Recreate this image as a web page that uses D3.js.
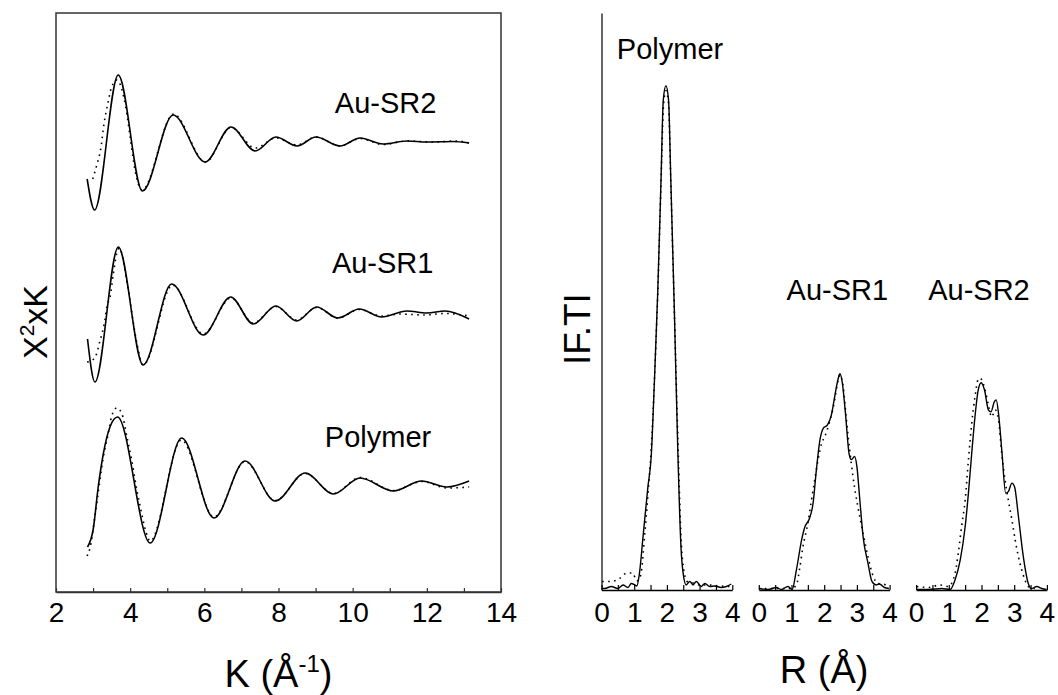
<!DOCTYPE html>
<html>
<head>
<meta charset="utf-8">
<script src="https://cdn.jsdelivr.net/npm/d3@7"></script>
<style>
  body { margin: 0; background: #fff; }
  text { font-family: "Liberation Sans", Arial, sans-serif; fill: #000; }
</style>
</head>
<body>
<div id="chart"></div>
<script>
// ---- k-space (left panel): measured (solid) and fit (dotted) ----
const samples = ['Polymer', 'Au-SR1', 'Au-SR2'];
const kOffsets = [2.16, 5.58, 9.0];

const kPoly = [2.85, 3.0, 3.14, 3.28, 3.46, 3.66, 4.54, 5.39, 6.26, 7.10, 7.91, 8.72, 9.48, 10.20, 11.10, 11.86, 12.54, 13.14];
const chiPoly = [-1.26, -0.92, -0.05, 0.62, 1.15, 1.34, -1.18, 0.92, -0.68, 0.46, -0.34, 0.22, -0.20, 0.12, -0.14, 0.06, -0.06, 0.06];
const kPolyFit = [2.84, 2.92, 3.05, 3.28, 3.41, 3.50, 3.64, 3.77, 3.91, 4.04, 4.18, 4.31, 4.40, 4.54, 5.38, 6.26, 7.10, 7.91, 8.72, 9.48, 10.2, 11.1, 11.86, 12.54, 13.14];
const chiPolyFit = [-1.44, -1.27, -0.65, 0.55, 1.01, 1.35, 1.52, 1.42, 0.95, 0.48, -0.12, -0.59, -0.89, -1.14, 0.88, -0.66, 0.45, -0.33, 0.21, -0.19, 0.13, -0.13, 0.05, -0.08, -0.06];

const kSR1 = [2.85, 3.05, 3.68, 4.35, 5.12, 5.97, 6.71, 7.32, 7.93, 8.49, 9.03, 9.60, 10.18, 10.78, 11.46, 12.00, 12.49, 13.14];
const chiSR1 = [-0.52, -1.38, 1.32, -1.04, 0.58, -0.44, 0.32, -0.22, 0.14, -0.16, 0.12, -0.10, 0.08, -0.08, 0.04, 0.00, 0.04, -0.12];
const kSR1Fit = [2.84, 3.02, 3.11, 3.17, 3.23, 3.32, 3.37, 3.46, 3.55, 3.64, 3.70, 3.95, 4.08, 4.18, 4.35, 5.14, 5.97, 6.72, 7.32, 7.93, 8.49, 9.03, 9.60, 10.18, 10.78, 11.3, 11.9, 12.5, 13.14];
const chiSR1Fit = [-0.98, -0.92, -0.78, -0.60, -0.44, -0.14, 0.12, 0.33, 0.80, 1.20, 1.30, 0.46, -0.17, -0.60, -1.04, 0.56, -0.42, 0.30, -0.20, 0.13, -0.14, 0.11, -0.10, 0.07, -0.06, -0.02, -0.04, -0.01, -0.06];

const kSR2 = [2.84, 3.04, 3.68, 4.33, 5.16, 6.02, 6.72, 7.37, 7.93, 8.50, 9.01, 9.66, 10.20, 10.82, 11.47, 12.0, 12.7, 13.14];
const chiSR2 = [-0.74, -1.36, 1.34, -0.98, 0.54, -0.40, 0.30, -0.18, 0.10, -0.08, 0.10, -0.08, 0.08, -0.04, 0.02, 0.0, 0.01, -0.02];
const kSR2Fit = [2.99, 3.10, 3.21, 3.29, 3.40, 3.50, 3.64, 3.88, 4.00, 4.13, 4.32, 5.17, 6.03, 6.72, 7.37, 7.93, 8.50, 9.01, 9.66, 10.2, 10.82, 11.47, 12.2, 12.8, 13.14];
const chiSR2Fit = [-0.74, -0.46, -0.12, 0.34, 0.78, 1.10, 1.24, 0.70, 0.10, -0.56, -0.96, 0.56, -0.40, 0.29, -0.12, 0.08, -0.06, 0.10, -0.08, 0.07, -0.05, 0.02, 0.0, 0.02, -0.02];

const kTicks = [2, 3, 4, 5, 6, 7, 8, 9, 10, 11, 12, 13, 14];

// ---- R-space (right panels): FT magnitude ----
const rPoly = [0.03, 0.10, 0.30, 0.50, 0.66, 0.81, 0.91, 1.02, 1.08, 1.16, 1.27, 1.42, 1.52, 1.62, 1.72, 1.82, 1.89, 1.97, 2.05, 2.12, 2.23, 2.33, 2.43, 2.51, 2.59, 2.70, 2.80, 2.90, 3.05, 3.16, 3.31, 3.46, 3.66, 3.82, 3.97];
const iPoly = [0.03, 0.03, 0.07, 0.03, 0.10, 0.05, 0.13, 0.10, 0.08, 0.33, 1.06, 2.06, 2.66, 4.19, 5.94, 8.17, 9.77, 10.05, 9.77, 8.17, 5.52, 2.86, 0.86, 0.27, 0.10, 0.17, 0.10, 0.17, 0.07, 0.13, 0.07, 0.08, 0.05, 0.07, 0.12];
const rPolyFit = [0.02, 0.3, 0.55, 0.75, 0.95, 1.08, 1.2, 1.32, 1.42, 1.52, 1.62, 1.72, 1.82, 1.90, 1.97, 2.05, 2.12, 2.23, 2.34, 2.44, 2.53, 2.62, 2.8, 3.0, 3.3, 3.6, 3.97];
const iPolyFit = [0.17, 0.17, 0.23, 0.33, 0.34, 0.18, 0.30, 1.10, 1.90, 2.80, 4.20, 5.90, 8.10, 9.70, 9.95, 9.70, 8.10, 5.50, 2.90, 0.95, 0.35, 0.17, 0.14, 0.10, 0.10, 0.08, 0.07];

const rSR1 = [0.03, 0.28, 0.54, 0.69, 0.89, 1.02, 1.15, 1.31, 1.41, 1.54, 1.66, 1.76, 1.87, 1.97, 2.10, 2.22, 2.32, 2.43, 2.48, 2.55, 2.65, 2.76, 2.83, 2.93, 3.00, 3.09, 3.19, 3.34, 3.46, 3.59, 3.69, 3.84, 3.98];
const iSR1 = [0.03, 0.01, 0.05, 0.01, 0.07, 0.01, 0.40, 1.00, 1.26, 1.41, 1.73, 2.39, 2.99, 3.22, 3.29, 3.49, 3.85, 4.22, 4.31, 4.15, 3.52, 2.72, 2.60, 2.66, 2.46, 1.79, 1.06, 0.53, 0.17, 0.10, 0.12, 0.05, 0.03];
const rSR1Fit = [0.0, 0.5, 1.0, 1.15, 1.25, 1.35, 1.50, 1.61, 1.71, 1.81, 1.92, 2.02, 2.12, 2.28, 2.43, 2.48, 2.58, 2.68, 2.78, 2.88, 3.03, 3.19, 3.34, 3.50, 3.65, 3.80, 3.94];
const iSR1Fit = [0.03, 0.03, 0.03, 0.10, 0.43, 0.86, 1.33, 1.79, 2.19, 2.59, 2.92, 3.06, 3.25, 3.65, 4.19, 4.29, 4.05, 3.39, 2.79, 2.26, 1.66, 1.13, 0.66, 0.27, 0.13, 0.12, 0.07];

const rSR2 = [0.02, 0.38, 0.79, 1.04, 1.19, 1.35, 1.50, 1.60, 1.70, 1.80, 1.90, 1.99, 2.09, 2.21, 2.29, 2.39, 2.45, 2.52, 2.62, 2.74, 2.82, 2.93, 3.01, 3.13, 3.28, 3.43, 3.53, 3.69, 3.84, 3.99];
const iSR2 = [0.01, 0.01, 0.03, 0.01, 0.20, 0.60, 1.26, 1.93, 2.72, 3.45, 3.99, 4.13, 3.99, 3.59, 3.55, 3.75, 3.79, 3.52, 2.79, 1.93, 1.96, 2.13, 2.06, 1.46, 0.66, 0.13, 0.03, 0.07, 0.03, 0.01];
const rSR2Fit = [0.02, 0.38, 0.73, 0.99, 1.19, 1.29, 1.39, 1.50, 1.60, 1.70, 1.80, 1.90, 1.96, 2.11, 2.21, 2.31, 2.42, 2.52, 2.62, 2.72, 2.82, 2.93, 3.03, 3.13, 3.23, 3.33, 3.43, 3.63];
const iSR2Fit = [0.07, 0.05, 0.10, 0.07, 0.33, 0.73, 1.26, 1.79, 2.59, 3.32, 3.85, 4.20, 4.22, 3.99, 3.69, 3.45, 3.59, 3.39, 2.72, 2.19, 1.79, 1.40, 1.00, 0.66, 0.40, 0.20, 0.07, 0.03];

const rTicks = [0, 0.5, 1, 1.5, 2, 2.5, 3, 3.5, 4];

const w = 1058, h = 695;
const fontFamily = '"Liberation Sans", Arial, sans-serif';

const svg = d3.select('#chart')
    .append('svg')
    .attr('width', w)
    .attr('height', h);

function zip(xs, ys) {
    return xs.map((x, i) => [x, ys[i]]);
}

// ===== left panel =====
const kScale = d3.scaleLinear().domain([2, 14]).range([56, 501]);
const chiScale = d3.scaleLinear().domain([0, 11.58]).range([592, 13]);

svg.append('rect')
    .attr('x', kScale(2))
    .attr('y', chiScale(11.58))
    .attr('width', kScale(14) - kScale(2))
    .attr('height', chiScale(0) - chiScale(11.58))
    .attr('fill', 'none')
    .attr('stroke', '#333')
    .attr('stroke-width', 1.5);

const kAxis = d3.axisBottom(kScale)
    .tickValues(kTicks)
    .tickSizeInner(-4)
    .tickSizeOuter(0)
    .tickPadding(10)
    .tickFormat(d => d % 2 === 0 ? d : '');

const kAxisG = svg.append('g')
    .attr('transform', 'translate(0,' + chiScale(0) + ')')
    .call(kAxis)
    .attr('font-size', 28)
    .attr('font-family', fontFamily);
kAxisG.select('.domain').attr('stroke', '#333').attr('stroke-width', 1.5);
kAxisG.selectAll('.tick line').attr('stroke', '#333').attr('stroke-width', 1.2);

const kLine = d3.line()
    .x(d => kScale(d[0]))
    .y(d => chiScale(d[1]))
    .curve(d3.curveMonotoneX);

const kCurves = [
    { k: kPoly, chi: chiPoly, kFit: kPolyFit, chiFit: chiPolyFit },
    { k: kSR1, chi: chiSR1, kFit: kSR1Fit, chiFit: chiSR1Fit },
    { k: kSR2, chi: chiSR2, kFit: kSR2Fit, chiFit: chiSR2Fit }
];

kCurves.forEach((c, i) => {
    const off = kOffsets[i];
    svg.append('path')
        .attr('d', kLine(zip(c.kFit, c.chiFit.map(v => v + off))))
        .attr('fill', 'none')
        .attr('stroke', '#000')
        .attr('stroke-width', 1.6)
        .attr('stroke-dasharray', '1.6,4.4');
    svg.append('path')
        .attr('d', kLine(zip(c.k, c.chi.map(v => v + off))))
        .attr('fill', 'none')
        .attr('stroke', '#000')
        .attr('stroke-width', 1.6);
});

// curve names, left
const kLabelPos = [[9.25, 2.9], [9.44, 6.38], [9.52, 9.58]];
samples.forEach((s, i) => {
    svg.append('text')
        .attr('x', kScale(kLabelPos[i][0]))
        .attr('y', chiScale(kLabelPos[i][1]))
        .attr('font-size', 29)
        .text(s);
});

// x title with superscript
const kTitle = svg.append('text')
    .attr('x', kScale(8))
    .attr('y', chiScale(0) + 95)
    .attr('text-anchor', 'middle')
    .attr('font-size', 38);
kTitle.append('tspan').text('K (Å');
kTitle.append('tspan').attr('font-size', 24).attr('dy', -15).text('-1');
kTitle.append('tspan').attr('dy', 15).text(')');

// y title
const chiTitle = svg.append('text')
    .attr('transform', 'translate(47,' + chiScale(5.4) + ') rotate(-90)')
    .attr('text-anchor', 'middle')
    .attr('font-size', 34);
chiTitle.append('tspan').text('X');
chiTitle.append('tspan').attr('font-size', 21).attr('dy', -13).text('2');
chiTitle.append('tspan').attr('dy', 13).text('xK');

// ===== right panels =====
const panelBand = d3.scaleBand()
    .domain(samples)
    .range([601.5, 1046.9])
    .paddingInner(0.1685)
    .paddingOuter(0);

const iScale = d3.scaleLinear().domain([0, 11.5]).range([590, 13]);

svg.append('g')
    .attr('transform', 'translate(' + panelBand('Polymer') + ',0)')
    .call(d3.axisLeft(iScale).tickValues([]).tickSizeOuter(0))
    .select('.domain')
    .attr('stroke', '#000')
    .attr('stroke-width', 1.2);

const rCurves = [
    { r: rPoly, v: iPoly, rFit: rPolyFit, vFit: iPolyFit },
    { r: rSR1, v: iSR1, rFit: rSR1Fit, vFit: iSR1Fit },
    { r: rSR2, v: iSR2, rFit: rSR2Fit, vFit: iSR2Fit }
];

samples.forEach((s, i) => {
    const x0 = panelBand(s);
    const rScale = d3.scaleLinear().domain([0, 4]).range([x0, x0 + panelBand.bandwidth()]);

    const rAxis = d3.axisBottom(rScale)
        .tickValues(rTicks)
        .tickSizeInner(-5)
        .tickSizeOuter(0)
        .tickPadding(12)
        .tickFormat(d => Number.isInteger(d) ? d : '');

    const g = svg.append('g')
        .attr('transform', 'translate(0,' + iScale(0) + ')')
        .call(rAxis)
        .attr('font-size', 28)
        .attr('font-family', fontFamily);
    g.select('.domain').attr('stroke', '#000').attr('stroke-width', 1.5);
    g.selectAll('.tick line').attr('stroke', '#000').attr('stroke-width', 1.2);

    const rLine = d3.line()
        .x(d => rScale(d[0]))
        .y(d => iScale(d[1]))
        .curve(d3.curveMonotoneX);

    const c = rCurves[i];
    svg.append('path')
        .attr('d', rLine(zip(c.rFit, c.vFit)))
        .attr('fill', 'none')
        .attr('stroke', '#000')
        .attr('stroke-width', 1.6)
        .attr('stroke-dasharray', '1.6,4.4');
    svg.append('path')
        .attr('d', rLine(zip(c.r, c.v)))
        .attr('fill', 'none')
        .attr('stroke', '#000')
        .attr('stroke-width', 1.4);
});

// curve names, right
const rLabelPos = [[0.47, 10.58], [0.85, 5.78], [0.37, 5.78]];
samples.forEach((s, i) => {
    const x0 = panelBand(s);
    const rScale = d3.scaleLinear().domain([0, 4]).range([x0, x0 + panelBand.bandwidth()]);
    svg.append('text')
        .attr('x', rScale(rLabelPos[i][0]))
        .attr('y', iScale(rLabelPos[i][1]))
        .attr('font-size', 29)
        .text(s);
});

svg.append('text')
    .attr('x', panelBand('Au-SR1') + panelBand.bandwidth() / 2)
    .attr('y', iScale(0) + 93)
    .attr('text-anchor', 'middle')
    .attr('font-size', 38)
    .text('R (Å)');

svg.append('text')
    .attr('transform', 'translate(590,' + iScale(5.2) + ') rotate(-90)')
    .attr('text-anchor', 'middle')
    .attr('font-size', 37)
    .text('IF.TI');
</script>
</body>
</html>
